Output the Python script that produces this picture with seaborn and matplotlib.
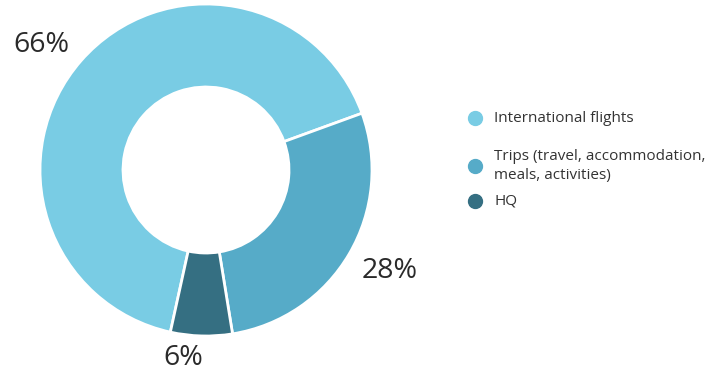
import matplotlib
matplotlib.use("Agg")
import matplotlib.pyplot as plt
from matplotlib.lines import Line2D
import seaborn as sns

# Share of emissions by source
categories = ["International flights", "Trips (travel, accommodation,\nmeals, activities)", "HQ"]
shares = [66, 28, 6]
colors = ["#79cce4", "#56abc8", "#356f82"]

sns.set_theme(style="white")
plt.rcParams["font.family"] = ["Open Sans", "DejaVu Sans"]

W, H = 725, 374
fig = plt.figure(figsize=(W / 100, H / 100), dpi=100)

# donut axes: centre (206, 170) px, outer radius 166 px
cx, cy, r = 206, 170, 166
ax = fig.add_axes([(cx - r) / W, (H - cy - r) / H, 2 * r / W, 2 * r / H])
ax.pie(
    shares,
    colors=colors,
    startangle=-102.4,
    counterclock=False,
    radius=1.0,
    wedgeprops=dict(width=0.5, edgecolor="white", linewidth=2),
)
ax.set_xlim(-1, 1)
ax.set_ylim(-1, 1)
ax.set_aspect("equal")
ax.axis("off")

# percentage labels outside each wedge
label_pos = [(-0.99, 0.753), (1.108, -0.608), (-0.139, -1.133)]
for v, (x, y) in zip(shares, label_pos):
    ax.text(x, y, f"{v}%", ha="center", va="center", fontsize=20.5,
            color="#2a2a2a", clip_on=False)

# legend drawn as dots with labels
leg_y = [118, 166, 201]
for lab, col, y in zip(categories, colors, leg_y):
    fig.add_artist(Line2D(
        [475 / W], [1 - y / H], marker="o", markersize=10, color=col,
        linestyle="none", transform=fig.transFigure))
    fig.text(494 / W, 1 - y / H, lab, ha="left", va="center", fontsize=11,
             color="#333333", linespacing=1.3)

fig.savefig("out.png", dpi=100, facecolor="white")
